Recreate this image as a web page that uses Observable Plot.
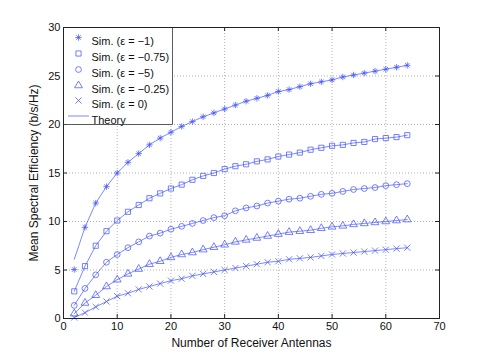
<!DOCTYPE html>
<html><head><meta charset="utf-8">
<script src="https://cdn.jsdelivr.net/npm/d3@7"></script>
<script src="https://cdn.jsdelivr.net/npm/@observablehq/plot@0.6"></script>
<style>body{margin:0;background:#fff} svg{display:block}</style>
</head><body><div id="chart"></div>
<script>
const antennas = [2,4,6,8,10,12,14,16,18,20,22,24,26,28,30,32,34,36,38,40,42,44,46,48,50,52,54,56,58,60,62,64];
const simEpsMinus1    = [5.05,9.4,11.9,13.6,15.0,16.1,17.0,17.9,18.6,19.2,19.8,20.3,20.8,21.2,21.6,22.0,22.4,22.7,23.0,23.4,23.6,23.9,24.2,24.4,24.6,24.9,25.1,25.3,25.5,25.7,25.9,26.1];
const simEpsMinus075  = [2.8,5.4,7.5,9.0,10.1,11.0,11.7,12.4,12.9,13.4,13.8,14.3,14.7,15.0,15.4,15.7,15.9,16.2,16.4,16.7,16.9,17.1,17.4,17.6,17.8,17.9,18.1,18.2,18.5,18.6,18.7,18.9];
const simEpsMinus5    = [1.35,3.1,4.5,5.8,6.6,7.3,7.9,8.5,8.8,9.2,9.5,9.8,10.1,10.4,10.6,11.1,11.4,11.6,11.9,12.1,12.3,12.4,12.6,12.8,12.9,13.1,13.3,13.4,13.5,13.7,13.8,13.9];
const simEpsMinus025  = [0.5,1.6,2.4,3.3,4.0,4.6,5.1,5.6,5.9,6.3,6.6,6.8,7.1,7.35,7.6,7.9,8.1,8.3,8.5,8.7,8.9,9.0,9.1,9.3,9.45,9.55,9.7,9.8,9.9,10.0,10.1,10.2];
const simEps0         = [0.1,0.6,1.2,1.75,2.3,2.6,3.0,3.3,3.6,3.9,4.1,4.4,4.6,4.8,5.0,5.2,5.4,5.6,5.8,5.9,6.1,6.2,6.3,6.45,6.6,6.7,6.8,6.9,7.0,7.1,7.2,7.3];
const theoryEpsMinus1   = [6.1,9.4,11.9,13.6,15.0,16.1,17.0,17.9,18.6,19.2,19.8,20.3,20.8,21.2,21.6,22.0,22.4,22.7,23.0,23.4,23.6,23.9,24.2,24.4,24.6,24.9,25.1,25.3,25.5,25.7,25.9,26.1];
const theoryEpsMinus075 = [2.8,5.4,7.5,9.0,10.1,11.0,11.7,12.4,12.9,13.4,13.8,14.3,14.7,15.0,15.4,15.7,15.9,16.2,16.4,16.7,16.9,17.1,17.4,17.6,17.8,17.9,18.1,18.2,18.5,18.6,18.7,18.9];
const theoryEpsMinus5   = [1.35,3.1,4.5,5.8,6.6,7.3,7.9,8.5,8.8,9.2,9.5,9.8,10.1,10.4,10.6,11.1,11.4,11.6,11.9,12.1,12.3,12.4,12.6,12.8,12.9,13.1,13.3,13.4,13.5,13.7,13.8,13.9];
const theoryEpsMinus025 = [0.5,1.6,2.4,3.3,4.0,4.6,5.1,5.6,5.9,6.3,6.6,6.8,7.1,7.35,7.6,7.9,8.1,8.3,8.5,8.7,8.9,9.0,9.1,9.3,9.45,9.55,9.7,9.8,9.9,10.0,10.1,10.2];
const theoryEps0        = [0.1,0.6,1.2,1.75,2.3,2.6,3.0,3.3,3.6,3.9,4.1,4.4,4.6,4.8,5.0,5.2,5.4,5.6,5.8,5.9,6.1,6.2,6.3,6.45,6.6,6.7,6.8,6.9,7.0,7.1,7.2,7.3];
const seriesNames = ["Sim. (\u03b5 = \u22121)", "Sim. (\u03b5 = \u22120.75)", "Sim. (\u03b5 = \u22125)", "Sim. (\u03b5 = \u22120.25)", "Sim. (\u03b5 = 0)"];
const theoryName = "Theory";
const xTicks = [0,10,20,30,40,50,60,70];
const yTicks = [0,5,10,15,20,25,30];
const xLabel = "Number of Receiver Antennas";
const yLabel = "Mean Spectral Efficiency (b/s/Hz)";

const asterisk8 = {draw(ctx, size) {
  const r = Math.sqrt(size / Math.PI) * 1.1, d = r * Math.SQRT1_2;
  ctx.moveTo(-r, 0); ctx.lineTo(r, 0);
  ctx.moveTo(0, -r); ctx.lineTo(0, r);
  ctx.moveTo(-d, -d); ctx.lineTo(d, d);
  ctx.moveTo(-d, d); ctx.lineTo(d, -d);
}};
const symbols = [asterisk8, "square", "circle", "triangle", "times"];
const sims = [simEpsMinus1, simEpsMinus075, simEpsMinus5, simEpsMinus025, simEps0];
const theories = [theoryEpsMinus1, theoryEpsMinus075, theoryEpsMinus5, theoryEpsMinus025, theoryEps0];

const W = 485, H = 359, mL = 63, mR = 46, mT = 27, mB = 41;
const fw = W - mL - mR, fh = H - mT - mB;
const blue = "#4656ff";
const font = "'Liberation Sans', Arial, Helvetica, sans-serif";

const simData = sims.map((s, k) => antennas.map((a, i) => ({a, v: s[i], k})));
const thData = theories.map((s, k) => antennas.map((a, i) => ({a, v: s[i], k})));

const marks = [
  Plot.gridX(xTicks.slice(1, -1), {stroke: "#888", strokeOpacity: 0.8, strokeDasharray: "1,2", strokeWidth: 0.8}),
  Plot.gridY(yTicks.slice(1, -1), {stroke: "#888", strokeOpacity: 0.8, strokeDasharray: "1,2", strokeWidth: 0.8}),
  Plot.axisX(xTicks, {tickSize: 0, tickPadding: 4, fontSize: 11, label: null}),
  Plot.axisY(yTicks, {tickSize: 0, tickPadding: 3, fontSize: 11, label: null}),
  Plot.ruleX(xTicks, {insetTop: fh - 4, stroke: "#222"}),
  Plot.ruleX(xTicks, {insetBottom: fh - 4, stroke: "#222"}),
  Plot.ruleY(yTicks, {insetRight: fw - 4, stroke: "#222"}),
  Plot.ruleY(yTicks, {insetLeft: fw - 4, stroke: "#222"}),
];
thData.forEach(d => marks.push(Plot.line(d, {x: "a", y: "v", stroke: blue, strokeWidth: 0.7})));
simData.forEach((d, k) => marks.push(Plot.dot(d, {x: "a", y: "v", symbol: () => symbols[k], r: 2.9, stroke: blue, strokeWidth: 0.75, fill: "none"})));

// legend
marks.push(Plot.frame({insetRight: fw - 109, insetBottom: fh - 97, fill: "white", stroke: "#333", strokeWidth: 0.8}));
const rowY = [10, 26, 42, 58, 73, 89];
seriesNames.forEach((name, k) => {
  marks.push(Plot.dot([name], {frameAnchor: "top-left", dx: 15, dy: rowY[k], symbol: () => symbols[k], r: 2.9, stroke: blue, strokeWidth: 0.75, fill: "none"}));
  marks.push(Plot.text([name], {frameAnchor: "top-left", dx: 28, dy: rowY[k], text: d => d, textAnchor: "start", fontSize: 11, fill: "#111"}));
});
marks.push((index, scales, values, dims) => {
  const l = d3.create("svg:line")
    .attr("x1", dims.marginLeft + 5).attr("x2", dims.marginLeft + 26)
    .attr("y1", dims.marginTop + rowY[5]).attr("y2", dims.marginTop + rowY[5])
    .attr("stroke", blue).attr("stroke-width", 0.7);
  return l.node();
});
marks.push(Plot.text([theoryName], {frameAnchor: "top-left", dx: 28, dy: rowY[5], text: d => d, textAnchor: "start", fontSize: 11, fill: "#111"}));
marks.push(Plot.text([xLabel], {frameAnchor: "bottom", dy: 28, text: d => d, fontSize: 12, fill: "#111"}));
marks.push(Plot.text([yLabel], {frameAnchor: "left", dx: -29, rotate: -90, textAnchor: "middle", text: d => d, fontSize: 12, fill: "#111"}));
marks.push(Plot.frame({stroke: "#222", strokeWidth: 1}));

const chart = Plot.plot({
  width: W, height: H,
  marginLeft: mL, marginRight: mR, marginTop: mT, marginBottom: mB,
  x: {domain: [0, 70]},
  y: {domain: [0, 30]},
  style: {fontFamily: font, fontSize: "11px", color: "#111", background: "white"},
  marks
});
document.getElementById("chart").append(chart);
</script>
</body></html>
